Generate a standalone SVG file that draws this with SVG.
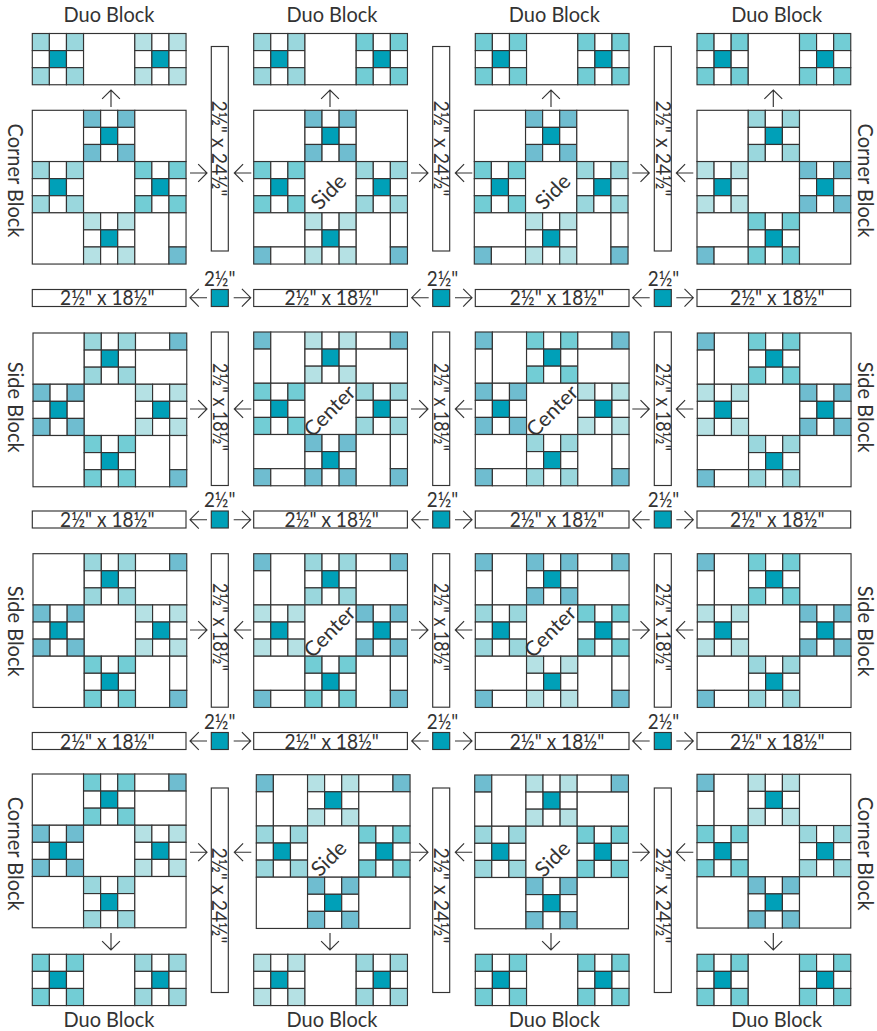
<svg xmlns="http://www.w3.org/2000/svg" width="877" height="1031" viewBox="0 0 877 1031">
<style>
.A{fill:#72cdd5}.B{fill:#9ad7dd}.C{fill:#b5e1e4}.D{fill:#6fbdd0}.T{fill:#00a0b8}.W{fill:#fff}
.L{stroke:#333;stroke-width:1.15}
text{font-family:"Lato","Open Sans","Liberation Sans",sans-serif;fill:#333;text-anchor:middle;font-size:21px}
.v{font-size:22px}
.arrow{fill:none;stroke:#333;stroke-width:1.15}
</style>
<defs>
<path id="ar" d="M-17,0H0M-8.8,-8.9L0,0L-8.8,8.9"/>
<g id="sq"><rect class="W L" width="51.25" height="51.25"/></g>
<g id="np">
<rect class="L" width="17.08" height="17.08"/><rect class="W L" x="17.08" width="17.08" height="17.08"/><rect class="L" x="34.17" width="17.08" height="17.08"/>
<rect class="W L" y="17.08" width="17.08" height="17.08"/><rect class="T L" x="17.08" y="17.08" width="17.08" height="17.08"/><rect class="W L" x="34.17" y="17.08" width="17.08" height="17.08"/>
<rect class="L" y="34.17" width="17.08" height="17.08"/><rect class="W L" x="17.08" y="34.17" width="17.08" height="17.08"/><rect class="L" x="34.17" y="34.17" width="17.08" height="17.08"/>
</g>
<g id="cTL"><rect class="D L" width="17.08" height="17.08"/><rect class="W L" y="17.08" width="17.08" height="34.17"/><rect class="W L" x="17.08" width="34.17" height="51.25"/></g>
<g id="cTR"><rect class="W L" width="34.17" height="17.08"/><rect class="D L" x="34.17" width="17.08" height="17.08"/><rect class="W L" y="17.08" width="51.25" height="34.17"/></g>
<g id="cBL"><rect class="W L" width="51.25" height="34.17"/><rect class="D L" y="34.17" width="17.08" height="17.08"/><rect class="W L" x="17.08" y="34.17" width="34.17" height="17.08"/></g>
<g id="cBR"><rect class="W L" width="34.17" height="51.25"/><rect class="W L" x="34.17" width="17.08" height="34.17"/><rect class="D L" x="34.17" y="34.17" width="17.08" height="17.08"/></g>
<rect id="hs" class="W L" width="153.7" height="17"/>
<rect id="sm" class="T L" width="17" height="17"/>
</defs>

<g id="duo-top-1" transform="translate(32.3,33.5)"><use href="#np" class="B"/><use href="#sq" x="51.25"/><use href="#np" x="102.5" class="C"/></g>
<g id="duo-top-2" transform="translate(253.7,33.5)"><use href="#np" class="B"/><use href="#sq" x="51.25"/><use href="#np" x="102.5" class="A"/></g>
<g id="duo-top-3" transform="translate(475.3,33.5)"><use href="#np" class="A"/><use href="#sq" x="51.25"/><use href="#np" x="102.5" class="A"/></g>
<g id="duo-top-4" transform="translate(697,33.5)"><use href="#np" class="A"/><use href="#sq" x="51.25"/><use href="#np" x="102.5" class="A"/></g>

<g id="block-r1c1" transform="translate(32.3,110.3)"><use href="#sq"/><use href="#np" x="51.25" class="D"/><use href="#sq" x="102.5"/><use href="#np" y="51.25" class="B"/><use href="#sq" x="51.25" y="51.25"/><use href="#np" x="102.5" y="51.25" class="A"/><use href="#sq" y="102.5"/><use href="#np" x="51.25" y="102.5" class="C"/><use href="#cBR" x="102.5" y="102.5"/></g>
<g id="block-r1c2" transform="translate(253.7,110.3)"><use href="#sq"/><use href="#np" x="51.25" class="D"/><use href="#sq" x="102.5"/><use href="#np" y="51.25" class="A"/><use href="#sq" x="51.25" y="51.25"/><use href="#np" x="102.5" y="51.25" class="B"/><use href="#cBL" y="102.5"/><use href="#np" x="51.25" y="102.5" class="C"/><use href="#cBR" x="102.5" y="102.5"/><text transform="translate(80,86.5) rotate(-45)" textLength="40" lengthAdjust="spacingAndGlyphs">Side</text></g>
<g id="block-r1c3" transform="translate(474.3,110.3)"><use href="#sq"/><use href="#np" x="51.25" class="D"/><use href="#sq" x="102.5"/><use href="#np" y="51.25" class="A"/><use href="#sq" x="51.25" y="51.25"/><use href="#np" x="102.5" y="51.25" class="B"/><use href="#cBL" y="102.5"/><use href="#np" x="51.25" y="102.5" class="C"/><use href="#cBR" x="102.5" y="102.5"/><text transform="translate(83.5,86.5) rotate(-45)" textLength="40" lengthAdjust="spacingAndGlyphs">Side</text></g>
<g id="block-r1c4" transform="translate(697,110.3)"><use href="#sq"/><use href="#np" x="51.25" class="B"/><use href="#sq" x="102.5"/><use href="#np" y="51.25" class="C"/><use href="#sq" x="51.25" y="51.25"/><use href="#np" x="102.5" y="51.25" class="D"/><use href="#cBL" y="102.5"/><use href="#np" x="51.25" y="102.5" class="A"/><use href="#sq" x="102.5" y="102.5"/></g>

<g id="block-r2c1" transform="translate(33,333)"><use href="#sq"/><use href="#np" x="51.25" class="B"/><use href="#cTR" x="102.5"/><use href="#np" y="51.25" class="D"/><use href="#sq" x="51.25" y="51.25"/><use href="#np" x="102.5" y="51.25" class="C"/><use href="#sq" y="102.5"/><use href="#np" x="51.25" y="102.5" class="A"/><use href="#cBR" x="102.5" y="102.5"/></g>
<g id="block-r2c2" transform="translate(253.7,332)"><use href="#cTL"/><use href="#np" x="51.25" class="C"/><use href="#cTR" x="102.5"/><use href="#np" y="51.25" class="A"/><use href="#sq" x="51.25" y="51.25"/><use href="#np" x="102.5" y="51.25" class="B"/><use href="#cBL" y="102.5"/><use href="#np" x="51.25" y="102.5" class="D"/><use href="#cBR" x="102.5" y="102.5"/><text transform="translate(81,84) rotate(-45)" textLength="63" lengthAdjust="spacingAndGlyphs">Center</text></g>
<g id="block-r2c3" transform="translate(475.3,332)"><use href="#cTL"/><use href="#np" x="51.25" class="A"/><use href="#cTR" x="102.5"/><use href="#np" y="51.25" class="D"/><use href="#sq" x="51.25" y="51.25"/><use href="#np" x="102.5" y="51.25" class="C"/><use href="#cBL" y="102.5"/><use href="#np" x="51.25" y="102.5" class="B"/><use href="#cBR" x="102.5" y="102.5"/><text transform="translate(82,84) rotate(-45)" textLength="63" lengthAdjust="spacingAndGlyphs">Center</text></g>
<g id="block-r2c4" transform="translate(697.3,333)"><use href="#cTL"/><use href="#np" x="51.25" class="A"/><use href="#sq" x="102.5"/><use href="#np" y="51.25" class="C"/><use href="#sq" x="51.25" y="51.25"/><use href="#np" x="102.5" y="51.25" class="D"/><use href="#cBL" y="102.5"/><use href="#np" x="51.25" y="102.5" class="B"/><use href="#sq" x="102.5" y="102.5"/></g>

<g id="block-r3c1" transform="translate(33,553.7)"><use href="#sq"/><use href="#np" x="51.25" class="B"/><use href="#cTR" x="102.5"/><use href="#np" y="51.25" class="D"/><use href="#sq" x="51.25" y="51.25"/><use href="#np" x="102.5" y="51.25" class="C"/><use href="#sq" y="102.5"/><use href="#np" x="51.25" y="102.5" class="A"/><use href="#cBR" x="102.5" y="102.5"/></g>
<g id="block-r3c2" transform="translate(253.7,553.7)"><use href="#cTL"/><use href="#np" x="51.25" class="B"/><use href="#cTR" x="102.5"/><use href="#np" y="51.25" class="C"/><use href="#sq" x="51.25" y="51.25"/><use href="#np" x="102.5" y="51.25" class="D"/><use href="#cBL" y="102.5"/><use href="#np" x="51.25" y="102.5" class="A"/><use href="#cBR" x="102.5" y="102.5"/><text transform="translate(81,83) rotate(-45)" textLength="63" lengthAdjust="spacingAndGlyphs">Center</text></g>
<g id="block-r3c3" transform="translate(475.3,553.7)"><use href="#cTL"/><use href="#np" x="51.25" class="D"/><use href="#cTR" x="102.5"/><use href="#np" y="51.25" class="B"/><use href="#sq" x="51.25" y="51.25"/><use href="#np" x="102.5" y="51.25" class="A"/><use href="#cBL" y="102.5"/><use href="#np" x="51.25" y="102.5" class="C"/><use href="#cBR" x="102.5" y="102.5"/><text transform="translate(80,83) rotate(-45)" textLength="63" lengthAdjust="spacingAndGlyphs">Center</text></g>
<g id="block-r3c4" transform="translate(697.3,553.7)"><use href="#cTL"/><use href="#np" x="51.25" class="A"/><use href="#sq" x="102.5"/><use href="#np" y="51.25" class="C"/><use href="#sq" x="51.25" y="51.25"/><use href="#np" x="102.5" y="51.25" class="D"/><use href="#cBL" y="102.5"/><use href="#np" x="51.25" y="102.5" class="B"/><use href="#sq" x="102.5" y="102.5"/></g>

<g id="block-r4c1" transform="translate(32.3,774)"><use href="#sq"/><use href="#np" x="51.25" class="A"/><use href="#cTR" x="102.5"/><use href="#np" y="51.25" class="D"/><use href="#sq" x="51.25" y="51.25"/><use href="#np" x="102.5" y="51.25" class="C"/><use href="#sq" y="102.5"/><use href="#np" x="51.25" y="102.5" class="B"/><use href="#sq" x="102.5" y="102.5"/></g>
<g id="block-r4c2" transform="translate(256.3,774.7)"><use href="#cTL"/><use href="#np" x="51.25" class="C"/><use href="#cTR" x="102.5"/><use href="#np" y="51.25" class="B"/><use href="#sq" x="51.25" y="51.25"/><use href="#np" x="102.5" y="51.25" class="A"/><use href="#sq" y="102.5"/><use href="#np" x="51.25" y="102.5" class="D"/><use href="#sq" x="102.5" y="102.5"/><text transform="translate(77.5,89) rotate(-45)" textLength="40" lengthAdjust="spacingAndGlyphs">Side</text></g>
<g id="block-r4c3" transform="translate(474.7,775)"><use href="#cTL"/><use href="#np" x="51.25" class="C"/><use href="#cTR" x="102.5"/><use href="#np" y="51.25" class="B"/><use href="#sq" x="51.25" y="51.25"/><use href="#np" x="102.5" y="51.25" class="A"/><use href="#sq" y="102.5"/><use href="#np" x="51.25" y="102.5" class="D"/><use href="#sq" x="102.5" y="102.5"/><text transform="translate(83,89) rotate(-45)" textLength="40" lengthAdjust="spacingAndGlyphs">Side</text></g>
<g id="block-r4c4" transform="translate(697,774.3)"><use href="#cTL"/><use href="#np" x="51.25" class="C"/><use href="#sq" x="102.5"/><use href="#np" y="51.25" class="A"/><use href="#sq" x="51.25" y="51.25"/><use href="#np" x="102.5" y="51.25" class="B"/><use href="#sq" y="102.5"/><use href="#np" x="51.25" y="102.5" class="D"/><use href="#sq" x="102.5" y="102.5"/></g>

<g id="duo-bottom-1" transform="translate(32.3,954.3)"><use href="#np" class="A"/><use href="#sq" x="51.25"/><use href="#np" x="102.5" class="B"/></g>
<g id="duo-bottom-2" transform="translate(253.7,954.3)"><use href="#np" class="C"/><use href="#sq" x="51.25"/><use href="#np" x="102.5" class="B"/></g>
<g id="duo-bottom-3" transform="translate(475.3,954.3)"><use href="#np" class="A"/><use href="#sq" x="51.25"/><use href="#np" x="102.5" class="A"/></g>
<g id="duo-bottom-4" transform="translate(697,954.3)"><use href="#np" class="A"/><use href="#sq" x="51.25"/><use href="#np" x="102.5" class="A"/></g>

<g id="sashing-vertical">
<rect class="W L" x="211.3" y="46.5" width="17" height="204.5"/><rect class="W L" x="432.7" y="46.5" width="17" height="204.5"/><rect class="W L" x="654.3" y="46.5" width="17" height="204.5"/>
<rect class="W L" x="211.3" y="332" width="17" height="153.5"/><rect class="W L" x="432.7" y="332" width="17" height="153.5"/><rect class="W L" x="654.3" y="332" width="17" height="153.5"/>
<rect class="W L" x="211.3" y="553.7" width="17" height="153.5"/><rect class="W L" x="432.7" y="553.7" width="17" height="153.5"/><rect class="W L" x="654.3" y="553.7" width="17" height="153.5"/>
<rect class="W L" x="211.3" y="788" width="17" height="204.5"/><rect class="W L" x="432.7" y="788" width="17" height="204.5"/><rect class="W L" x="654.3" y="788" width="17" height="204.5"/>
<text class="v" transform="translate(212.2,148.5) rotate(90)" textLength="96" lengthAdjust="spacingAndGlyphs">2½" x 24½"</text>
<text class="v" transform="translate(433.5,148.5) rotate(90)" textLength="96" lengthAdjust="spacingAndGlyphs">2½" x 24½"</text>
<text class="v" transform="translate(656,148.5) rotate(90)" textLength="96" lengthAdjust="spacingAndGlyphs">2½" x 24½"</text>
<text class="v" transform="translate(212.5,407) rotate(90)" textLength="88" lengthAdjust="spacingAndGlyphs">2½" x 18½"</text>
<text class="v" transform="translate(433.5,407) rotate(90)" textLength="88" lengthAdjust="spacingAndGlyphs">2½" x 18½"</text>
<text class="v" transform="translate(656,407) rotate(90)" textLength="88" lengthAdjust="spacingAndGlyphs">2½" x 18½"</text>
<text class="v" transform="translate(212.5,627) rotate(90)" textLength="88" lengthAdjust="spacingAndGlyphs">2½" x 18½"</text>
<text class="v" transform="translate(433.5,627) rotate(90)" textLength="88" lengthAdjust="spacingAndGlyphs">2½" x 18½"</text>
<text class="v" transform="translate(656,627) rotate(90)" textLength="88" lengthAdjust="spacingAndGlyphs">2½" x 18½"</text>
<text class="v" transform="translate(212.2,895.5) rotate(90)" textLength="96" lengthAdjust="spacingAndGlyphs">2½" x 24½"</text>
<text class="v" transform="translate(433.5,895.5) rotate(90)" textLength="96" lengthAdjust="spacingAndGlyphs">2½" x 24½"</text>
<text class="v" transform="translate(656,895.5) rotate(90)" textLength="96" lengthAdjust="spacingAndGlyphs">2½" x 24½"</text>
</g>

<g id="sashing-horizontal">
<use href="#hs" x="32.3" y="289.5"/><use href="#hs" x="253.7" y="289.5"/><use href="#hs" x="475.3" y="289.5"/><use href="#hs" x="697" y="289.5"/>
<use href="#hs" x="32.3" y="511"/><use href="#hs" x="253.7" y="511"/><use href="#hs" x="475.3" y="511"/><use href="#hs" x="697" y="511"/>
<use href="#hs" x="32.3" y="732.5"/><use href="#hs" x="253.7" y="732.5"/><use href="#hs" x="475.3" y="732.5"/><use href="#hs" x="697" y="732.5"/>
<text x="107.3" y="305" textLength="94.5" lengthAdjust="spacingAndGlyphs">2½" x 18½"</text><text x="331.7" y="305" textLength="94.5" lengthAdjust="spacingAndGlyphs">2½" x 18½"</text><text x="557" y="305" textLength="94.5" lengthAdjust="spacingAndGlyphs">2½" x 18½"</text><text x="777.3" y="305" textLength="94.5" lengthAdjust="spacingAndGlyphs">2½" x 18½"</text>
<text x="107.3" y="527" textLength="94.5" lengthAdjust="spacingAndGlyphs">2½" x 18½"</text><text x="331.7" y="527" textLength="94.5" lengthAdjust="spacingAndGlyphs">2½" x 18½"</text><text x="557" y="527" textLength="94.5" lengthAdjust="spacingAndGlyphs">2½" x 18½"</text><text x="777.3" y="527" textLength="94.5" lengthAdjust="spacingAndGlyphs">2½" x 18½"</text>
<text x="107.3" y="748.7" textLength="94.5" lengthAdjust="spacingAndGlyphs">2½" x 18½"</text><text x="331.7" y="748.7" textLength="94.5" lengthAdjust="spacingAndGlyphs">2½" x 18½"</text><text x="557" y="748.7" textLength="94.5" lengthAdjust="spacingAndGlyphs">2½" x 18½"</text><text x="777.3" y="748.7" textLength="94.5" lengthAdjust="spacingAndGlyphs">2½" x 18½"</text>
</g>

<g id="cornerstones">
<use href="#sm" x="211.3" y="289.5"/><use href="#sm" x="432.7" y="289.5"/><use href="#sm" x="654.3" y="289.5"/>
<use href="#sm" x="211.3" y="511"/><use href="#sm" x="432.7" y="511"/><use href="#sm" x="654.3" y="511"/>
<use href="#sm" x="211.3" y="732.5"/><use href="#sm" x="432.7" y="732.5"/><use href="#sm" x="654.3" y="732.5"/>
<text x="219.7" y="286" textLength="31.5" lengthAdjust="spacingAndGlyphs">2½"</text><text x="442.5" y="286" textLength="31.5" lengthAdjust="spacingAndGlyphs">2½"</text><text x="663.5" y="286" textLength="31.5" lengthAdjust="spacingAndGlyphs">2½"</text>
<text x="219.7" y="507.3" textLength="31.5" lengthAdjust="spacingAndGlyphs">2½"</text><text x="442.5" y="507.3" textLength="31.5" lengthAdjust="spacingAndGlyphs">2½"</text><text x="663.5" y="507.3" textLength="31.5" lengthAdjust="spacingAndGlyphs">2½"</text>
<text x="219.7" y="729.3" textLength="31.5" lengthAdjust="spacingAndGlyphs">2½"</text><text x="442.5" y="729.3" textLength="31.5" lengthAdjust="spacingAndGlyphs">2½"</text><text x="663.5" y="729.3" textLength="31.5" lengthAdjust="spacingAndGlyphs">2½"</text>
</g>

<g id="labels">
<text x="109" y="21.7" textLength="91" lengthAdjust="spacingAndGlyphs">Duo Block</text><text x="332" y="21.7" textLength="91" lengthAdjust="spacingAndGlyphs">Duo Block</text><text x="554.3" y="21.7" textLength="91" lengthAdjust="spacingAndGlyphs">Duo Block</text><text x="776.7" y="21.7" textLength="91" lengthAdjust="spacingAndGlyphs">Duo Block</text>
<text x="109" y="1026.7" textLength="91" lengthAdjust="spacingAndGlyphs">Duo Block</text><text x="332" y="1026.7" textLength="91" lengthAdjust="spacingAndGlyphs">Duo Block</text><text x="554.3" y="1026.7" textLength="91" lengthAdjust="spacingAndGlyphs">Duo Block</text><text x="776.7" y="1026.7" textLength="91" lengthAdjust="spacingAndGlyphs">Duo Block</text>
<text transform="translate(8,180.5) rotate(90)" textLength="114" lengthAdjust="spacingAndGlyphs">Corner Block</text>
<text transform="translate(857.5,180.5) rotate(90)" textLength="114" lengthAdjust="spacingAndGlyphs">Corner Block</text>
<text transform="translate(8,407.2) rotate(90)" textLength="91" lengthAdjust="spacingAndGlyphs">Side Block</text>
<text transform="translate(857.5,407.2) rotate(90)" textLength="91" lengthAdjust="spacingAndGlyphs">Side Block</text>
<text transform="translate(8,631.2) rotate(90)" textLength="91" lengthAdjust="spacingAndGlyphs">Side Block</text>
<text transform="translate(857.5,631.2) rotate(90)" textLength="91" lengthAdjust="spacingAndGlyphs">Side Block</text>
<text transform="translate(8,853.7) rotate(90)" textLength="114" lengthAdjust="spacingAndGlyphs">Corner Block</text>
<text transform="translate(857.5,853.7) rotate(90)" textLength="114" lengthAdjust="spacingAndGlyphs">Corner Block</text>
</g>

<g id="connectors" class="arrow">
<use href="#ar" transform="translate(111,90) rotate(-90)"/><use href="#ar" transform="translate(330,90) rotate(-90)"/><use href="#ar" transform="translate(551,90) rotate(-90)"/><use href="#ar" transform="translate(773.3,90) rotate(-90)"/>
<use href="#ar" transform="translate(111,950) rotate(90)"/><use href="#ar" transform="translate(330,950) rotate(90)"/><use href="#ar" transform="translate(551,950) rotate(90)"/><use href="#ar" transform="translate(773.3,950) rotate(90)"/>
<use href="#ar" transform="translate(207,173)"/><use href="#ar" transform="translate(234.3,173) rotate(180)"/><use href="#ar" transform="translate(428,173)"/><use href="#ar" transform="translate(455.3,173) rotate(180)"/><use href="#ar" transform="translate(649.3,173)"/><use href="#ar" transform="translate(676.3,173) rotate(180)"/>
<use href="#ar" transform="translate(207,409)"/><use href="#ar" transform="translate(234.3,409) rotate(180)"/><use href="#ar" transform="translate(428,409)"/><use href="#ar" transform="translate(455.3,409) rotate(180)"/><use href="#ar" transform="translate(649.3,409)"/><use href="#ar" transform="translate(676.3,409) rotate(180)"/>
<use href="#ar" transform="translate(207,630)"/><use href="#ar" transform="translate(234.3,630) rotate(180)"/><use href="#ar" transform="translate(428,630)"/><use href="#ar" transform="translate(455.3,630) rotate(180)"/><use href="#ar" transform="translate(649.3,630)"/><use href="#ar" transform="translate(676.3,630) rotate(180)"/>
<use href="#ar" transform="translate(207,852.3)"/><use href="#ar" transform="translate(234.3,852.3) rotate(180)"/><use href="#ar" transform="translate(428,852.3)"/><use href="#ar" transform="translate(455.3,852.3) rotate(180)"/><use href="#ar" transform="translate(649.3,852.3)"/><use href="#ar" transform="translate(676.3,852.3) rotate(180)"/>
<use href="#ar" transform="translate(190,297.7) rotate(180)"/><use href="#ar" transform="translate(250.7,297.7)"/><use href="#ar" transform="translate(411.7,297.7) rotate(180)"/><use href="#ar" transform="translate(472,297.7)"/><use href="#ar" transform="translate(632.7,297.7) rotate(180)"/><use href="#ar" transform="translate(693.3,297.7)"/>
<use href="#ar" transform="translate(190,519.7) rotate(180)"/><use href="#ar" transform="translate(250.7,519.7)"/><use href="#ar" transform="translate(411.7,519.7) rotate(180)"/><use href="#ar" transform="translate(472,519.7)"/><use href="#ar" transform="translate(632.7,519.7) rotate(180)"/><use href="#ar" transform="translate(693.3,519.7)"/>
<use href="#ar" transform="translate(190,741) rotate(180)"/><use href="#ar" transform="translate(250.7,741)"/><use href="#ar" transform="translate(411.7,741) rotate(180)"/><use href="#ar" transform="translate(472,741)"/><use href="#ar" transform="translate(632.7,741) rotate(180)"/><use href="#ar" transform="translate(693.3,741)"/>
</g>
</svg>
